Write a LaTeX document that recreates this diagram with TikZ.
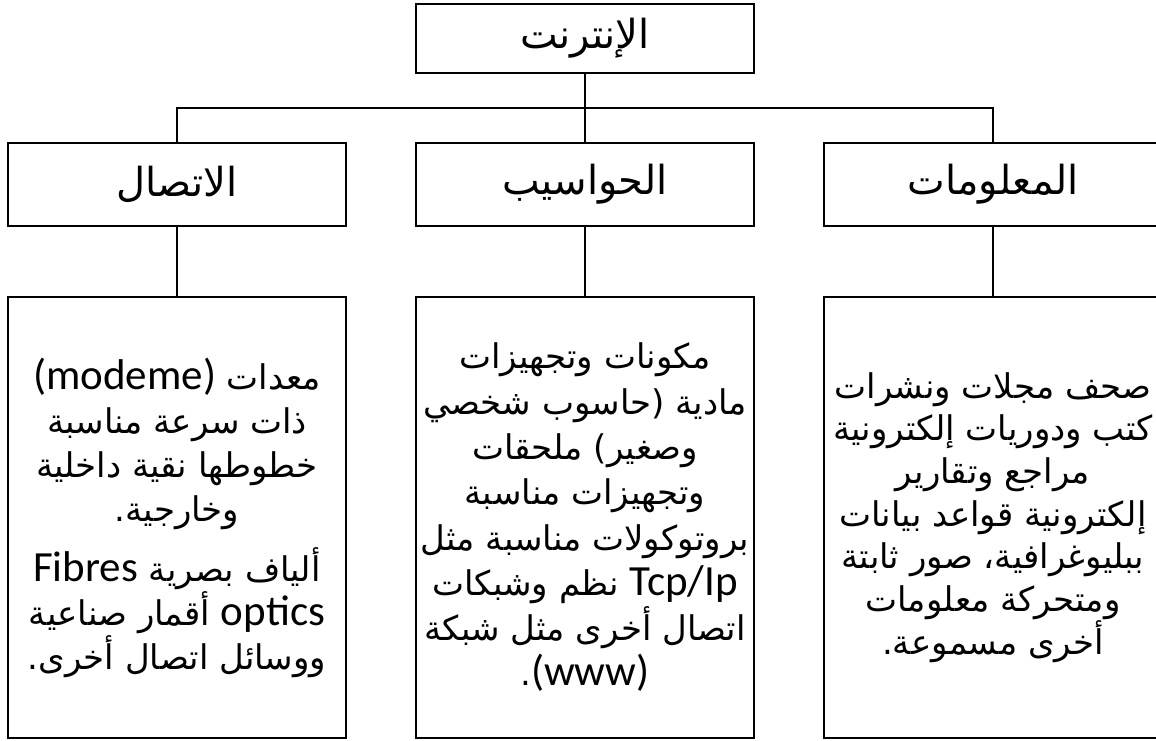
\documentclass[tikz,border=0pt]{standalone}
\usepackage{fontspec}
\usepackage{tikz}
\usetikzlibrary{positioning}

\TeXXeTstate=1
\newfontfamily\arabicfont[Script=Arabic]{DejaVu Sans}
\newfontfamily\latinfont{Carlito}
\newcommand{\arline}[1]{\beginR #1\endR}
\newcommand{\latword}[1]{\beginL{\latinfont\fontsize{43}{44}\selectfont #1}\endL}
\newcommand{\infofont}[1][44]{\arabicfont\fontsize{34}{#1}\selectfont\lineskiplimit=-50pt\relax}

\tikzset{
  headbox/.style={draw, line width=2.5pt, outer sep=0pt, minimum width=338pt, inner sep=0pt, font=\arabicfont\fontsize{40}{44}\selectfont},
  infobox/.style={draw, line width=2.5pt, outer sep=0pt, minimum width=338pt, minimum height=441pt, inner sep=0pt, align=center},
  link/.style={draw, line width=2pt}
}

\begin{document}
\begin{tikzpicture}[x=1pt, y=1pt]

\useasboundingbox (0,0) rectangle (1156,-740);

\node [headbox, minimum height=69pt                          ] (internet)  at (585,-38.5) {\arline{الإنترنت}};
\node [headbox, minimum height=83pt, below=70pt of internet  ] (computers) {\arline{الحواسيب}};
\node [headbox, minimum height=83pt, left=70pt of computers  ] (comm)      {\arline{الاتصال}};
\node [headbox, minimum height=83pt, right=70pt of computers ] (info)      {\arline{المعلومات}};

\node [infobox, font={\infofont[44]}, below=71pt of comm] (commtext) {%
  \arline{معدات \latword{(modeme)}}\\
  \arline{ذات سرعة مناسبة}\\
  \arline{خطوطها نقية داخلية}\\
  \arline{وخارجية.}\\[16pt]
  \arline{ألياف بصرية \latword{Fibres}}\\
  \arline{\latword{optics} أقمار صناعية}\\
  \arline{ووسائل اتصال أخرى.}};
\node [infobox, font={\infofont[45.3]}, below=71pt of computers] (comptext) {%
  \arline{مكونات وتجهيزات}\\
  \arline{مادية (حاسوب شخصي}\\
  \arline{وصغير) ملحقات}\\
  \arline{وتجهيزات مناسبة}\\
  \arline{بروتوكولات مناسبة مثل}\\
  \arline{\latword{Tcp/Ip} نظم وشبكات}\\
  \arline{اتصال أخرى مثل شبكة}\\
  \arline{\latword{(www)}.}};
\node [infobox, font={\infofont[42.7]}, below=71pt of info] (infotext) {%
  \arline{صحف مجلات ونشرات}\\
  \arline{كتب ودوريات إلكترونية}\\
  \arline{مراجع وتقارير}\\
  \arline{إلكترونية قواعد بيانات}\\
  \arline{ببليوغرافية، صور ثابتة}\\
  \arline{ومتحركة معلومات}\\
  \arline{أخرى مسموعة.}};

\coordinate [below=35pt of internet] (bus);

\path [link] (internet) edge (computers);
\path [link] (bus) -| (comm.north);
\path [link] (bus) -| (info.north);
\path [link] (comm)      edge (commtext);
\path [link] (computers) edge (comptext);
\path [link] (info)      edge (infotext);

\end{tikzpicture}
\end{document}
